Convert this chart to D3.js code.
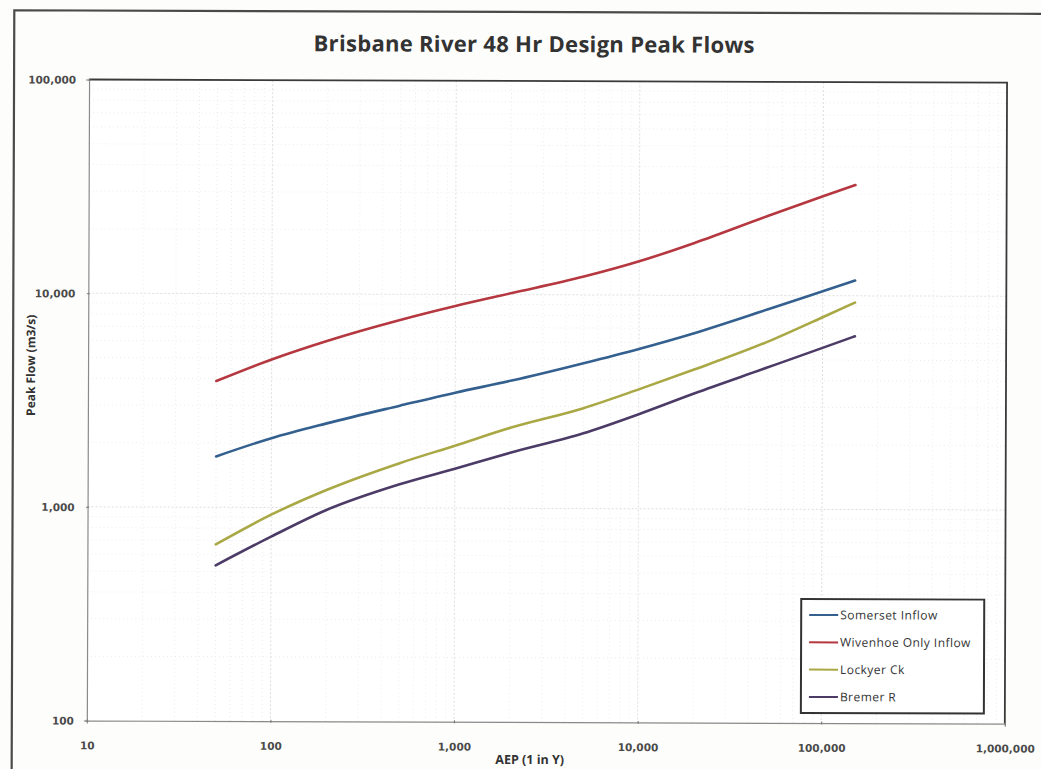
<!DOCTYPE html>
<html>
<head>
<meta charset="utf-8">
<script src="https://cdn.jsdelivr.net/npm/d3@7/dist/d3.min.js"></script>
<style>
  html, body { margin: 0; padding: 0; background: #fdfdfb; }
  svg { display: block; }
</style>
</head>
<body>
<svg id="chart" width="1041" height="769"></svg>
<script>
// AEP (1 in Y) sample points shared by all series
const aep = [50, 100, 200, 500, 1000, 2000, 5000, 10000, 20000, 50000, 100000, 150000];

// Peak flows (m3/s) per location
const somersetInflow = [1730, 2110, 2480, 3010, 3470, 3950, 4790, 5600, 6650, 8600, 10500, 11800];
const wivenhoeOnlyInflow = [3900, 4930, 6030, 7580, 8830, 10140, 12180, 14390, 17580, 23560, 29200, 33000];
const lockyerCk = [670, 925, 1210, 1620, 1960, 2380, 2950, 3620, 4490, 6070, 7930, 9300];
const bremerR = [535, 730, 975, 1290, 1530, 1820, 2250, 2770, 3470, 4600, 5700, 6470];

const seriesNames = ["Somerset Inflow", "Wivenhoe Only Inflow", "Lockyer Ck", "Bremer R"];
const seriesValues = [somersetInflow, wivenhoeOnlyInflow, lockyerCk, bremerR];
const seriesColors = ["#34608f", "#b5373f", "#a9a845", "#4b3b66"];

const xTicks = [10, 100, 1000, 10000, 100000, 1000000];
const yTicks = [100, 1000, 10000, 100000];

const svg = d3.select("#chart");
const root = svg.append("g").attr("transform", "rotate(0.2, 520, 385)");

const plot = { left: 88, right: 1006, top: 81, bottom: 722 };
const x = d3.scaleLog().domain([10, 1000000]).range([plot.left, plot.right]);
const y = d3.scaleLog().domain([100, 100000]).range([plot.bottom, plot.top]);
const fmt = d3.format(",");

// Outer chart frame
root.append("path")
  .attr("d", "M13,790 L13,12 L1060,12")
  .attr("fill", "none").attr("stroke", "#4a4a4a").attr("stroke-width", 2.2);

// Title
root.append("text")
  .attr("x", 533).attr("y", 52)
  .attr("text-anchor", "middle")
  .attr("font-family", "'Open Sans', sans-serif")
  .attr("font-weight", "bold").attr("font-size", 22)
  .attr("letter-spacing", 0.3)
  .attr("fill", "#333")
  .text("Brisbane River 48 Hr Design Peak Flows");

// Plot background
root.append("rect")
  .attr("x", plot.left).attr("y", plot.top)
  .attr("width", plot.right - plot.left).attr("height", plot.bottom - plot.top)
  .attr("fill", "#ffffff");

// Minor and major gridlines
const grid = root.append("g");
const xMinor = [];
for (let d = 10; d < 1000000; d *= 10) for (let k = 2; k <= 9; k++) xMinor.push(d * k);
const yMinor = [];
for (let d = 100; d < 100000; d *= 10) for (let k = 2; k <= 9; k++) yMinor.push(d * k);

grid.selectAll(".xmin").data(xMinor).join("line")
  .attr("x1", d => x(d)).attr("x2", d => x(d))
  .attr("y1", plot.top).attr("y2", plot.bottom)
  .attr("stroke", "#ebebeb").attr("stroke-width", 1).attr("stroke-dasharray", "1,3");
grid.selectAll(".ymin").data(yMinor).join("line")
  .attr("y1", d => y(d)).attr("y2", d => y(d))
  .attr("x1", plot.left).attr("x2", plot.right)
  .attr("stroke", "#ebebeb").attr("stroke-width", 1).attr("stroke-dasharray", "1,3");
grid.selectAll(".xmaj").data(xTicks.slice(1, -1)).join("line")
  .attr("x1", d => x(d)).attr("x2", d => x(d))
  .attr("y1", plot.top).attr("y2", plot.bottom)
  .attr("stroke", "#dedede").attr("stroke-width", 1).attr("stroke-dasharray", "2,2");
grid.selectAll(".ymaj").data(yTicks.slice(1, -1)).join("line")
  .attr("y1", d => y(d)).attr("y2", d => y(d))
  .attr("x1", plot.left).attr("x2", plot.right)
  .attr("stroke", "#dedede").attr("stroke-width", 1).attr("stroke-dasharray", "2,2");

// Plot area border
root.append("path")
  .attr("d", `M${plot.left},${plot.top} L${plot.right},${plot.top} L${plot.right},${plot.bottom}`)
  .attr("fill", "none").attr("stroke", "#3a3a3a").attr("stroke-width", 1.8);

// Axes
const xAxis = d3.axisBottom(x).tickValues(xTicks).tickSize(3).tickFormat(fmt);
const yAxis = d3.axisLeft(y).tickValues(yTicks).tickSize(3).tickFormat(fmt);

const gx = root.append("g").attr("transform", `translate(0,${plot.bottom})`).call(xAxis);
gx.select(".domain").attr("stroke", "#8a8a8a").attr("stroke-width", 1.2);
gx.selectAll(".tick line").attr("stroke", "#777").attr("transform", "translate(0,-1.5)");
gx.selectAll(".tick text")
  .attr("y", 25).attr("dy", "0.35em")
  .attr("font-family", "'DejaVu Sans', sans-serif").attr("font-weight", "bold")
  .attr("font-size", 10.5).attr("fill", "#4a4a4a");

const gy = root.append("g").attr("transform", `translate(${plot.left},0)`).call(yAxis);
gy.select(".domain").attr("stroke", "#8a8a8a").attr("stroke-width", 1.2);
gy.selectAll(".tick line").attr("stroke", "#777").attr("transform", "translate(1.5,0)");
gy.selectAll(".tick text")
  .attr("x", -13).attr("dy", "0.35em")
  .attr("font-family", "'DejaVu Sans', sans-serif").attr("font-weight", "bold")
  .attr("font-size", 10.5).attr("fill", "#4a4a4a");

// Axis titles
root.append("text")
  .attr("x", 531).attr("y", 764)
  .attr("text-anchor", "middle")
  .attr("font-family", "'Open Sans', sans-serif").attr("font-weight", "bold")
  .attr("font-size", 12.5).attr("fill", "#333")
  .text("AEP (1 in Y)");

root.append("text")
  .attr("transform", "translate(35,367) rotate(-90)")
  .attr("text-anchor", "middle")
  .attr("font-family", "'Open Sans', sans-serif").attr("font-weight", "bold")
  .attr("font-size", 12).attr("fill", "#333")
  .text("Peak Flow (m3/s)");

// Series lines
const line = d3.line()
  .x(d => x(d[0]))
  .y(d => y(d[1]))
  .curve(d3.curveMonotoneX);

const lines = root.append("g");
seriesValues.forEach((vals, i) => {
  lines.append("path")
    .datum(aep.map((a, j) => [a, vals[j]]))
    .attr("d", line)
    .attr("fill", "none")
    .attr("stroke", seriesColors[i])
    .attr("stroke-width", 2.6)
    .attr("stroke-linecap", "round");
});

// Legend
const legend = root.append("g").attr("transform", "translate(802,598)");
legend.append("rect")
  .attr("width", 183).attr("height", 114)
  .attr("fill", "#ffffff").attr("stroke", "#333").attr("stroke-width", 2);
seriesNames.forEach((name, i) => {
  const ly = 16 + i * 27.3;
  legend.append("line")
    .attr("x1", 8).attr("x2", 37).attr("y1", ly).attr("y2", ly)
    .attr("stroke", seriesColors[i]).attr("stroke-width", 2);
  legend.append("text")
    .attr("x", 39).attr("y", ly).attr("dy", "0.35em")
    .attr("font-family", "'Open Sans', sans-serif")
    .attr("font-size", 12).attr("letter-spacing", 0.45)
    .attr("fill", "#333")
    .text(name);
});
</script>
</body>
</html>
